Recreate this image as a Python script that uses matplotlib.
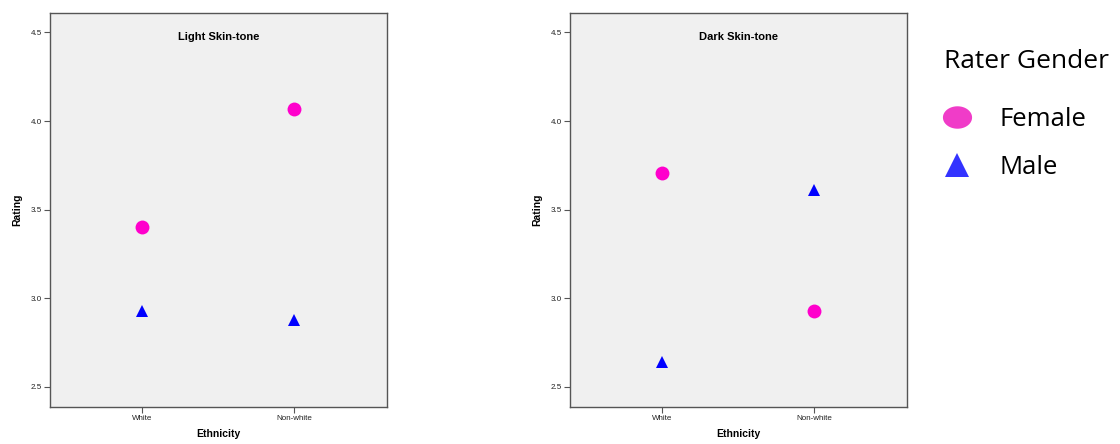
import matplotlib.pyplot as plt
import numpy as np
from matplotlib.path import Path
from matplotlib.lines import Line2D

# data
ethnicity = ['White', 'Non-white']
panels = ['Light Skin-tone', 'Dark Skin-tone']
female_light = [3.40, 4.07]
male_light = [2.93, 2.88]
female_dark = [3.71, 2.93]
male_dark = [2.64, 3.61]
yticks = [2.5, 3.0, 3.5, 4.0, 4.5]

plt.rcParams['font.family'] = ['Liberation Sans', 'DejaVu Sans']

fig = plt.figure(figsize=(11.2, 4.44), dpi=100)

pink = '#FF00CC'
blue = '#0000FF'

W, H = 1120, 444
positions = [(50, 13, 337, 394), (570, 13, 337, 394)]
series = [(female_light, male_light), (female_dark, male_dark)]

x = np.arange(len(ethnicity))
for (l, t, w, h), title, (fem, mal) in zip(positions, panels, series):
    ax = fig.add_axes([l / W, 1 - (t + h) / H, w / W, h / H])
    ax.set_facecolor('#F0F0F0')
    ax.plot(x, fem, 'o', color=pink, markersize=10, markeredgewidth=0)
    ax.plot(x, mal, '^', color=blue, markersize=8, markeredgewidth=0)
    ax.set_xlim(-0.605, 1.612)
    ax.set_ylim(2.387, 4.61)
    ax.set_xticks(x)
    ax.set_xticklabels(ethnicity)
    ax.set_yticks(yticks)
    ax.set_yticklabels([f'{v:.1f}' for v in yticks])
    for s in ax.spines.values():
        s.set_color('#555555')
        s.set_linewidth(1.0)
    ax.tick_params(labelsize=5.8, length=4, width=0.8, color='#555555', pad=2,
                   labelcolor='#222222')
    ax.set_ylabel('Rating', fontsize=7.5, fontweight='bold', labelpad=6)
    ax.set_xlabel('Ethnicity', fontsize=7.5, fontweight='bold', labelpad=5)
    ax.text(0.5, 0.94, title, transform=ax.transAxes, ha='center', va='center',
            fontsize=8, fontweight='bold')

# ellipse marker for the legend
th = np.linspace(0, 2 * np.pi, 60)
ellipse = Path(np.column_stack([1.3 * np.cos(th), np.sin(th)]))

handles = [
    Line2D([], [], linestyle='none', marker=ellipse, markersize=21,
           color='#F03CC8', markeredgewidth=0, label='Female'),
    Line2D([], [], linestyle='none', marker='^', markersize=17,
           color='#3333FF', markeredgewidth=0, label='Male'),
]
leg = fig.legend(handles=handles, loc='upper left',
                 bbox_to_anchor=(926 / W, 1 - 31 / H), frameon=False,
                 title='Rater Gender', prop={'family': 'Open Sans', 'size': 18.5},
                 title_fontproperties={'family': 'Open Sans', 'size': 19},
                 labelspacing=0.9, handletextpad=1.15, handlelength=1.0,
                 borderpad=0.2)
leg._legend_box.align = 'left'
leg._legend_box.sep = 24

fig.savefig('out.png', dpi=100)
